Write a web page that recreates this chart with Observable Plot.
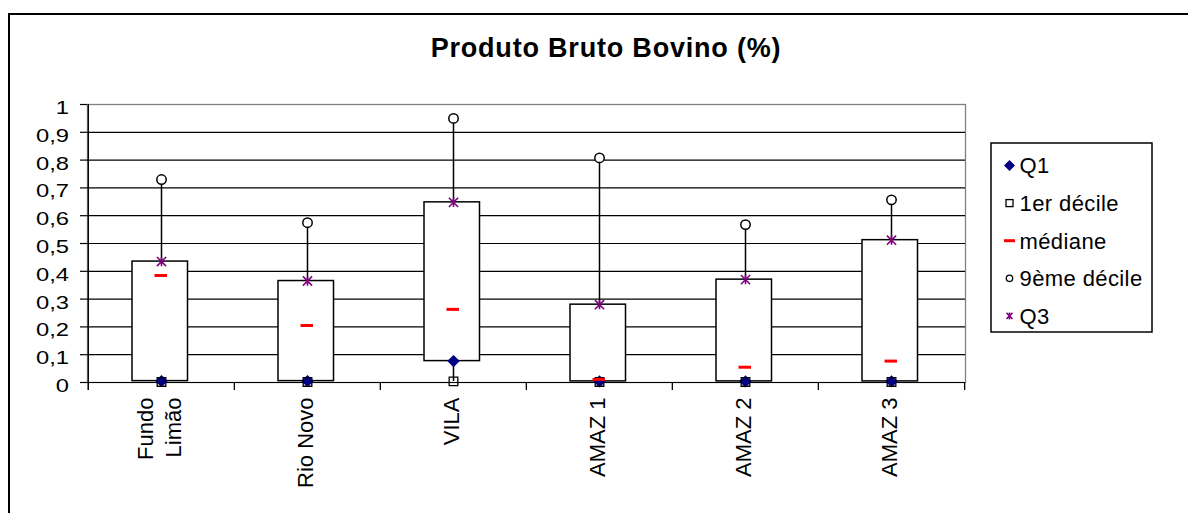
<!DOCTYPE html>
<html><head><meta charset="utf-8">
<script src="https://cdn.jsdelivr.net/npm/d3@7"></script>
<script src="https://cdn.jsdelivr.net/npm/@observablehq/plot@0.6"></script>
<style>
html,body{margin:0;padding:0;background:#fff;overflow:hidden;}
body{width:1188px;height:513px;position:relative;font-family:"Liberation Sans",Arial,sans-serif;}
#border{position:absolute;left:8px;top:13px;width:1300px;height:700px;border-left:2px solid #000;border-top:2px solid #000;}
#chart{position:absolute;left:0;top:0;}
#title{position:absolute;left:0;width:1212px;text-align:center;top:35px;font-weight:bold;font-size:27px;line-height:27px;letter-spacing:0.8px;white-space:nowrap;}
#legend{position:absolute;left:989px;top:141px;}
</style></head><body>
<div id="border"></div>
<div id="chart"></div>
<div id="title">Produto Bruto Bovino (%)</div>
<div id="legend"></div>
<script>
const categories = ["Fundo\nLimão", "Rio Novo", "VILA", "AMAZ 1", "AMAZ 2", "AMAZ 3"];
const q1 = [0.005, 0.005, 0.077, 0.004, 0.004, 0.004];
const decile1 = [0.002, 0.002, 0.004, 0.002, 0.002, 0.002];
const median = [0.385, 0.205, 0.263, 0.011, 0.055, 0.077];
const decile9 = [0.73, 0.575, 0.95, 0.808, 0.568, 0.657];
const q3 = [0.435, 0.365, 0.648, 0.28, 0.37, 0.512];
const yTicks = [0, 0.1, 0.2, 0.3, 0.4, 0.5, 0.6, 0.7, 0.8, 0.9, 1];
const yTickLabels = ["0", "0,1", "0,2", "0,3", "0,4", "0,5", "0,6", "0,7", "0,8", "0,9", "1"];
const seriesNames = ["Q1", "1er décile", "médiane", "9ème décile", "Q3"];

const rows = categories.map((c, i) => ({cat: c, q1: q1[i], d1: decile1[i], med: median[i], d9: decile9[i], q3: q3[i]}));

const xstar = {
  draw(context, size) {
    const r = Math.sqrt(size / Math.PI);
    context.moveTo(-r, -r); context.lineTo(r, r);
    context.moveTo(-r, r); context.lineTo(r, -r);
    context.moveTo(0, -r); context.lineTo(0, r);
  }
};

const W = 1188, H = 513, mL = 87, mR = 223, mT = 104, mB = 131;
const fw = W - mL - mR, fh = H - mT - mB;
const bw = fw / categories.length;

const plot = Plot.plot({
  width: W, height: H,
  marginLeft: mL, marginRight: mR, marginTop: mT, marginBottom: mB,
  style: {background: "transparent", fontFamily: "'Liberation Sans', Arial, sans-serif", color: "#000", overflow: "visible"},
  x: {type: "band", domain: categories, padding: 0, axis: null},
  y: {domain: [0, 1], axis: null},
  marks: [
    Plot.frame({stroke: "#808080", strokeWidth: 1.3}),
    Plot.ruleY(yTicks.filter(d => d < 1), {stroke: "#000", strokeWidth: 1.2}),
    Plot.ruleY(yTicks, {insetLeft: -7, insetRight: fw, stroke: "#000", strokeWidth: 1.2}),
    Plot.ruleX([categories[0]], {dx: -bw / 2, insetBottom: -8, stroke: "#000", strokeWidth: 1.3}),
    Plot.ruleX(categories, {dx: -bw / 2, insetTop: fh, insetBottom: -8, stroke: "#000", strokeWidth: 1.3}),
    Plot.ruleX([categories[categories.length - 1]], {dx: bw / 2, insetTop: fh, insetBottom: -8, stroke: "#000", strokeWidth: 1.3}),
    Plot.text(yTicks, {y: d => d, text: (d, i) => yTickLabels[i], frameAnchor: "left", dx: -18.5, dy: 3.5, textAnchor: "end", fontSize: 19, fill: "#000"}),
    Plot.text(categories, {x: d => d, text: d => d, frameAnchor: "bottom", rotate: -90, textAnchor: "end", lineAnchor: "middle", dx: -3.5, dy: 15, fontSize: 22, lineHeight: 1.3, fill: "#000"}),
    Plot.ruleX(rows, {x: "cat", y1: "d1", y2: "d9", stroke: "#000", strokeWidth: 1.5}),
    Plot.barY(rows, {x: "cat", y1: "q1", y2: "q3", fill: "#fff", stroke: "#000", strokeWidth: 1.5, insetLeft: 44, insetRight: 46.5}),
    Plot.dot(rows, {x: "cat", y: "q1", symbol: "diamond2", r: 5.6, fill: "#000080", stroke: null}),
    Plot.dot(rows, {x: "cat", y: "d1", symbol: "square2", r: 5.5, fill: "none", stroke: "#000", strokeWidth: 1.3}),
    Plot.tickY(rows, {x: "cat", y: "med", stroke: "#ff0000", strokeWidth: 3, insetLeft: 66.5, insetRight: 67}),
    Plot.dot(rows, {x: "cat", y: "d9", r: 4.7, fill: "#fff", stroke: "#000", strokeWidth: 1.5}),
    Plot.dot(rows, {x: "cat", y: "q3", symbol: xstar, r: 4.6, fill: "none", stroke: "#800080", strokeWidth: 1.6})
  ]
});
document.getElementById("chart").appendChild(plot);

// widen y tick labels (the reference's numerals are set wide)
d3.select(plot).selectAll("text").filter(function() {
  return yTickLabels.includes(this.textContent) && this.getAttribute("transform") && !/rotate/.test(this.getAttribute("transform"));
}).each(function() {
  const len = this.getComputedTextLength();
  this.setAttribute("textLength", (len * 1.25).toFixed(1));
  this.setAttribute("lengthAdjust", "spacingAndGlyphs");
});

// Legend
const lg = d3.select("#legend").append("svg").attr("width", 166).attr("height", 194);
lg.append("rect").attr("x", 2).attr("y", 2).attr("width", 161).attr("height", 189)
  .attr("fill", "#fff").attr("stroke", "#000").attr("stroke-width", 1.5);
const items = lg.selectAll("g").data(seriesNames).join("g")
  .attr("transform", (d, i) => `translate(20.5,${24.5 + i * 37.6})`);
items.append("text").attr("x", 10).attr("y", 7.8).text(d => d)
  .attr("font-size", 22).attr("letter-spacing", 0.4).attr("fill", "#000")
  .attr("font-family", "'Liberation Sans', Arial, sans-serif");
items.each(function(d, i) {
  const g = d3.select(this);
  if (i === 0) g.append("path").attr("d", "M0,-5.5L5.5,0L0,5.5L-5.5,0Z").attr("fill", "#000080");
  if (i === 1) g.append("rect").attr("x", -3.5).attr("y", -3.5).attr("width", 7).attr("height", 7).attr("fill", "none").attr("stroke", "#000").attr("stroke-width", 1.3);
  if (i === 2) g.append("line").attr("x1", -5.5).attr("x2", 5.5).attr("stroke", "#ff0000").attr("stroke-width", 3);
  if (i === 3) g.append("circle").attr("r", 3.2).attr("fill", "none").attr("stroke", "#000").attr("stroke-width", 1.3);
  if (i === 4) g.append("path").attr("d", "M-3,-3L3,3M-3,3L3,-3M0,-3.5L0,3.5").attr("stroke", "#800080").attr("stroke-width", 1.5);
});
</script>
</body></html>
